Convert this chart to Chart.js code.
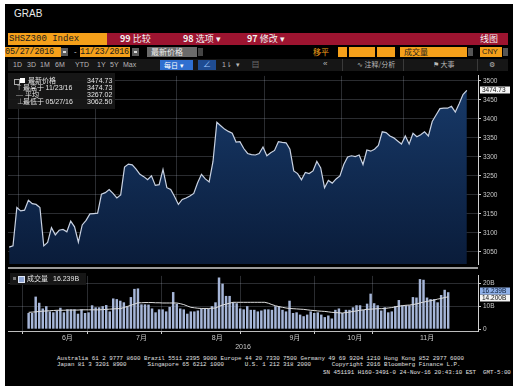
<!DOCTYPE html>
<html lang="zh">
<head>
<meta charset="utf-8">
<title>SHSZ300 Index</title>
<script src="https://cdn.jsdelivr.net/npm/chart.js@4.4.1/dist/chart.umd.min.js"></script>
<style>
  html, body { margin: 0; padding: 0; }
  body { width: 520px; height: 390px; background: #fff; position: relative; overflow: hidden;
         font-family: "Liberation Sans", "Noto Sans CJK SC", sans-serif; color: #ddd; }
  .abs  { position: absolute; white-space: pre; line-height: 1; }
  .org  { background: #f5a01a; color: #1c1c1c; }
  .mono { font-family: "Liberation Mono", "DejaVu Sans Mono", monospace; }
  .cjk  { font-family: "Noto Sans CJK SC", sans-serif; }
  .btn  { font-size: 7px; color: #b8b8b8; top: 61px; }
  .sep  { position: absolute; top: 59px; width: 1px; height: 12px; background: #3a3a3a; }
  .foot { font-family: "Liberation Mono", "DejaVu Sans Mono", monospace; font-size: 5.8px; color: #e0e0e0; }
  .lg   { font-size: 7px; color: #e4e4e4; }
  canvas { position: absolute; left: 0; }
</style>
</head>
<body>
<div class="abs" style="left:5px;top:4px;width:508px;height:382px;background:#000"></div>
<div class="abs" style="left:14px;top:9px;font-size:10px;color:#e8e8e8">GRAB</div>

<!-- row 1 -->
<div class="abs org mono" style="left:8px;top:33px;width:98px;height:12px;line-height:12px;font-size:9px;padding-left:1px">SHSZ300 Index</div>
<div class="abs" style="left:107px;top:33px;width:401px;height:12px;background:#9d1430"></div>
<div class="abs cjk" style="left:120px;top:33px;line-height:12px;font-size:9px;color:#f2f2f2"><b>99</b> 比较</div>
<div class="abs cjk" style="left:183px;top:33px;line-height:12px;font-size:9px;color:#f2f2f2"><b>98</b> 选项 ▾</div>
<div class="abs cjk" style="left:247px;top:33px;line-height:12px;font-size:9px;color:#f2f2f2"><b>97</b> 修改 ▾</div>
<div class="abs cjk" style="left:480px;top:33px;line-height:12px;font-size:9px;color:#f2f2f2">线图</div>

<!-- row 2 -->
<div class="abs org mono" style="left:5px;top:47px;width:56px;height:10px;line-height:10px;font-size:8.5px;letter-spacing:-0.2px">05/27/2016</div>
<div class="abs" style="left:61px;top:48px;width:7px;height:8px;background:#5c5c5c"></div>
<div class="abs" style="left:63px;top:51px;width:3px;height:2px;background:#ddd"></div>
<div class="abs" style="left:74px;top:47px;font-size:8px;line-height:10px;color:#ccc">-</div>
<div class="abs org mono" style="left:80px;top:47px;width:50px;height:10px;line-height:10px;font-size:8.5px;letter-spacing:-0.2px">11/23/2016</div>
<div class="abs" style="left:132px;top:48px;width:7px;height:8px;background:#5c5c5c"></div>
<div class="abs" style="left:134px;top:51px;width:3px;height:2px;background:#ddd"></div>
<div class="abs cjk" style="left:147px;top:47px;width:46px;height:10px;line-height:10px;font-size:8px;background:#6a6a6a;color:#eee;padding-left:4px">最新价格</div>
<div class="abs" style="left:198px;top:48px;width:5px;height:8px;background:#444"></div>
<div class="abs cjk" style="left:313px;top:47px;line-height:10px;font-size:8px;color:#f5a01a">移平</div>
<div class="abs org" style="left:338px;top:47px;width:9px;height:10px"></div>
<div class="abs org" style="left:349px;top:47px;width:26px;height:10px"></div>
<div class="abs org" style="left:377px;top:47px;width:18px;height:10px"></div>
<div class="abs org cjk" style="left:400px;top:47px;width:63px;height:10px;line-height:10px;font-size:8px;padding-left:4px">成交量</div>
<div class="abs" style="left:468px;top:48px;width:5px;height:8px;background:#555"></div>
<div class="abs org" style="left:480px;top:47px;width:20px;height:10px;line-height:10px;font-size:7.5px;padding-left:2px">CNY</div>
<div class="abs" style="left:503px;top:48px;width:5px;height:8px;background:#555"></div>

<!-- row 3 -->
<div class="abs" style="left:8px;top:59px;width:500px;height:12px;background:#161616"></div>
<div class="abs btn" style="left:13px">1D</div>
<div class="abs btn" style="left:27px">3D</div>
<div class="abs btn" style="left:40px">1M</div>
<div class="abs btn" style="left:55px">6M</div>
<div class="abs btn" style="left:75px">YTD</div>
<div class="abs btn" style="left:97px">1Y</div>
<div class="abs btn" style="left:110px">5Y</div>
<div class="abs btn" style="left:123px">Max</div>
<div class="abs cjk" style="left:160px;top:60px;width:29px;height:10px;line-height:10px;font-size:7px;background:#2f6fd0;color:#fff;padding-left:4px">每日 ▾</div>
<div class="abs" style="left:198px;top:60px;width:18px;height:10px;line-height:10px;font-size:8px;background:#1f4c92;color:#9cc4ff;text-align:center">∠</div>
<div class="abs btn" style="left:222px">1⇂  ▾</div>
<div class="abs btn" style="left:252px">▤</div>
<div class="sep" style="left:342px"></div>
<div class="sep" style="left:403px"></div>
<div class="sep" style="left:477px"></div>
<div class="abs btn" style="left:323px;font-size:8px;top:60px">«</div>
<div class="abs btn cjk" style="left:357px">∿ 注释/分析</div>
<div class="abs btn cjk" style="left:433px">⚑ 大事</div>
<div class="abs btn" style="left:489px">⚙</div>

<canvas id="price" width="520" height="200" style="top:70px"></canvas>
<canvas id="volume" width="520" height="85" style="top:270px"></canvas>

<!-- panel separator -->
<div class="abs" style="left:8px;top:267px;width:470px;height:2px;background:#9a9a9a"></div>

<!-- price legend -->
<div class="abs" style="left:8px;top:73px;width:107px;height:36px;background:rgba(24,24,24,0.92)"></div>
<div class="abs" style="left:14px;top:79px;width:4px;height:4px;border:1px solid #aaa"></div>
<div class="abs" style="left:20px;top:78px;width:5px;height:5px;background:#fff"></div>
<div class="abs lg cjk" style="left:28px;top:77px">最新价格</div>
<div class="abs lg" style="left:87px;top:77px">3474.73</div>
<div class="abs lg" style="left:17px;top:84px;color:#aaa">T</div>
<div class="abs lg cjk" style="left:23px;top:84px">最高于 <span style="font-family:'Liberation Sans'">11/23/16</span></div>
<div class="abs lg" style="left:87px;top:84px">3474.73</div>
<div class="abs lg" style="left:16px;top:91px;color:#aaa">—</div>
<div class="abs lg cjk" style="left:25px;top:91px">平均</div>
<div class="abs lg" style="left:87px;top:91px">3267.02</div>
<div class="abs lg" style="left:17px;top:98px;color:#aaa">⊥</div>
<div class="abs lg cjk" style="left:23px;top:98px">最低于 <span style="font-family:'Liberation Sans'">05/27/16</span></div>
<div class="abs lg" style="left:87px;top:98px">3062.50</div>

<!-- volume legend -->
<div class="abs" style="left:10px;top:273px;width:76px;height:12px;background:rgba(24,24,24,0.92)"></div>
<div class="abs" style="left:13px;top:277px;width:3px;height:3px;background:#777"></div>
<div class="abs" style="left:18px;top:276px;width:5px;height:5px;background:#8fa6d6;border:1px solid #dfe6f5"></div>
<div class="abs lg cjk" style="left:27px;top:275px">成交量</div>
<div class="abs lg" style="left:53px;top:275px">16.239B</div>

<!-- footer -->
<div class="abs foot" style="left:57px;top:356px">Australia 61 2 9777 8600 Brazil 5511 2395 9000 Europe 44 20 7330 7500 Germany 49 69 9204 1210 Hong Kong 852 2977 6000</div>
<div class="abs foot" style="left:57px;top:362px">Japan 81 3 3201 8900      Singapore 65 6212 1000      U.S. 1 212 318 2000      Copyright 2016 Bloomberg Finance L.P.</div>
<div class="abs foot" style="left:323px;top:370px">SN 451191 H160-3491-0 24-Nov-16 20:43:10 EST  GMT-5:00</div>

<script>
/* SHSZ300 daily close and turnover, 05/27/2016 – 11/23/2016 (one entry per trading day) */

const closes = [
  3062.50, 3066, 3167, 3158, 3160, 3186, 3177, 3175, 3167, 3066,
  3075, 3114, 3095, 3107, 3109, 3103, 3131, 3116, 3076, 3121,
  3133, 3150, 3151, 3152, 3202, 3206, 3214, 3204, 3192, 3200,
  3273, 3281, 3279, 3268, 3254, 3248, 3240, 3250, 3225, 3227,
  3267, 3219, 3214, 3196, 3175, 3188, 3192, 3197, 3204, 3232,
  3254, 3242, 3234, 3288, 3391, 3382, 3373, 3367, 3362, 3339,
  3340, 3322, 3309, 3306, 3305, 3309, 3326, 3303, 3311, 3317,
  3340, 3338, 3337, 3320, 3263, 3256, 3240, 3259, 3256, 3263,
  3288, 3271, 3219, 3238, 3231, 3242, 3250, 3280, 3300, 3303,
  3301, 3305, 3280, 3318, 3315, 3320, 3330, 3366, 3364, 3355,
  3350, 3342, 3334, 3355, 3334, 3362, 3353, 3358, 3366, 3355,
  3393, 3410, 3427, 3428, 3428, 3433, 3418, 3440, 3464, 3474.73,
];

// turnover, billions CNY
const volumes = [
  7.1, 7.1, 14.3, 11.6, 9.1, 10.1, 7.8, 7.4, 8.2, 9.4,
  7.4, 8.7, 8.7, 8.7, 6.8, 8.7, 7.1, 7.4, 10.5, 9.6,
  9.6, 10.1, 10.6, 7.8, 13.5, 13.2, 12.5, 11.8, 10.1, 14.1,
  17.7, 17.9, 10.9, 10.9, 10.8, 9.1, 7.4, 8.7, 8.7, 7.8,
  9.8, 16.3, 11.2, 9.1, 8.7, 6.8, 7.8, 7.8, 8.2, 9.1,
  9.1, 9.1, 10.1, 11.8, 22.7, 20.0, 14.6, 14.6, 11.8, 11.4,
  9.1, 8.7, 10.1, 8.5, 8.5, 7.8, 8.2, 8.7, 8.7, 8.5,
  10.1, 10.1, 8.5, 7.8, 12.5, 7.1, 7.4, 6.4, 5.7, 6.4,
  7.8, 7.1, 7.4, 6.4, 5.3, 6.0, 4.7, 8.5, 9.1, 7.1,
  8.5, 8.5, 9.6, 10.5, 10.5, 8.5, 11.2, 15.6, 11.4, 10.5,
  8.2, 9.6, 7.4, 7.8, 10.1, 12.8, 10.5, 10.5, 10.5, 14.1,
  13.9, 22.0, 21.7, 13.9, 13.2, 13.2, 11.8, 15.0, 17.3, 16.239,
];

// turnover moving average as drawn on the terminal
const volumeAvg = [
  7.4, 7.5, 7.6, 7.8, 7.9, 8.0, 8.1, 8.2, 8.3, 8.3,
  8.3, 8.4, 8.4, 8.4, 8.4, 8.5, 8.5, 8.5, 8.5, 8.5,
  8.5, 8.6, 8.7, 8.8, 8.9, 9.0, 9.0, 9.5, 10.0, 10.5,
  11.0, 11.6, 11.6, 11.7, 11.7, 11.7, 11.6, 11.6, 11.5, 11.5,
  11.5, 11.5, 11.5, 11.2, 10.8, 10.2, 9.6, 9.4, 9.2, 9.1,
  9.1, 9.1, 9.2, 9.3, 10.0, 10.6, 11.0, 11.4, 11.8, 11.8,
  11.8, 11.8, 11.8, 11.8, 11.8, 11.8, 11.8, 11.8, 11.4, 10.8,
  10.3, 9.9, 9.6, 9.3, 9.1, 9.0, 8.9, 8.8, 8.7, 8.5,
  8.3, 8.2, 8.0, 7.9, 7.8, 7.6, 7.4, 7.3, 7.2, 7.1,
  7.3, 7.5, 7.8, 8.0, 8.3, 8.5, 8.7, 8.8, 8.9, 9.0,
  9.0, 9.1, 9.3, 9.5, 9.8, 10.1, 10.3, 10.5, 10.6, 10.8,
  11.1, 11.5, 11.9, 12.2, 12.5, 12.8, 13.2, 13.5, 13.9, 14.2,
];

const monthLabels = ['6月', '7月', '8月', '9月', '10月', '11月'];
const monthStarts = [3, 23, 44, 67, 87, 103];          // first trading day of each month
const monthLabelAt = [11, 32, 53.5, 75.5, 92.5, 113];   // where the terminal prints each month name
const priceTicks  = [3050, 3100, 3150, 3200, 3250, 3300, 3350, 3400, 3450, 3500];
const volumeTicks = [0, 10, 20];

const COLORS = {
  line:     '#c9d2e2',
  fillTop:  '#183b6b',
  fillBot:  '#0a1c3a',
  grid:     'rgba(190,200,220,0.22)',
  axis:     '#c8c8c8',
  bar:      '#a6b6d8',
  avg:      '#dcdcdc',
  tagBlue:  '#8fb0e8',
};

const FONT = '"Liberation Sans", "Noto Sans CJK SC", sans-serif';
const X_MIN = -0.3, X_MAX = 121.9;
const CLEAR = 'rgba(0,0,0,0)';
const boundaries = monthStarts.map(s => s - 0.5);
const boundarySet = new Set(boundaries);

function points(arr) {
  return arr.map((v, i) => ({ x: i, y: v }));
}

function tickValue(c) {
  return c && c.tick ? c.tick.value : null;
}

// keep both panels' right axes the same width so the plot areas line up
function fixWidth(scale) { scale.width = 42; }

// price-style tag boxes drawn on the right axis
function tagPlugin(items) {
  return {
    id: 'tags',
    afterDraw(chart) {
      const { ctx } = chart;
      const y = chart.scales.y;
      ctx.save();
      ctx.font = '6.5px ' + FONT;
      ctx.textBaseline = 'middle';
      items.forEach(t => {
        const py = Math.round(y.getPixelForValue(t.value)) + (t.nudge || 0);
        ctx.fillStyle = t.bg;
        ctx.fillRect(480, py - 3.5, 30, 7);
        ctx.fillStyle = t.fg;
        ctx.fillText(t.text, 482, py + 0.5);
      });
      ctx.restore();
    },
  };
}

function renderPrice() {
  const ctx = document.getElementById('price').getContext('2d');
  const last = closes[closes.length - 1];

  new Chart(ctx, {
    type: 'line',
    data: {
      datasets: [{
        data: points(closes),
        borderColor: COLORS.line,
        borderWidth: 1.2,
        pointRadius: 0,
        tension: 0,
        fill: 'start',
        backgroundColor: c => {
          const area = c.chart.chartArea;
          if (!area) return COLORS.fillBot;
          const g = c.chart.ctx.createLinearGradient(0, area.top, 0, area.bottom);
          g.addColorStop(0, COLORS.fillTop);
          g.addColorStop(1, COLORS.fillBot);
          return g;
        },
      }],
    },
    options: {
      responsive: false,
      animation: false,
      devicePixelRatio: 1,
      layout: { padding: { left: 8, top: 1, right: 0, bottom: 3 } },
      plugins: { legend: { display: false }, tooltip: { enabled: false } },
      scales: {
        x: {
          type: 'linear', min: X_MIN, max: X_MAX, z: 1,
          afterBuildTicks: s => { s.ticks = boundaries.map(v => ({ value: v })); },
          afterFit: s => { s.height = 0; },
          ticks: { display: false },
          grid: { color: COLORS.grid, drawTicks: false },
          border: { display: false },
        },
        y: {
          position: 'right', min: 3018, max: 3513, z: 1,
          afterBuildTicks: s => { s.ticks = priceTicks.map(v => ({ value: v })); },
          afterFit: fixWidth,
          ticks: { color: COLORS.axis, padding: 2, font: { size: 6.5, family: FONT }, callback: v => String(v) },
          grid: { color: COLORS.grid, tickLength: 3, tickColor: '#d0d0d0' },
          border: { color: '#d0d0d0' },
        },
      },
    },
    plugins: [tagPlugin([{ value: last, text: last.toFixed(2), bg: '#f4f4f4', fg: '#111' }])],
  });
}

function renderVolume() {
  const ctx = document.getElementById('volume').getContext('2d');
  const lastVol = volumes[volumes.length - 1];
  const lastAvg = volumeAvg[volumeAvg.length - 1];
  const labelAt = new Map(monthLabelAt.map((v, i) => [v, monthLabels[i]]));

  new Chart(ctx, {
    type: 'bar',
    data: {
      datasets: [
        {
          type: 'line',
          data: points(volumeAvg),
          borderColor: COLORS.avg,
          borderWidth: 1,
          pointRadius: 0,
          order: 0,
        },
        {
          data: points(volumes),
          backgroundColor: COLORS.bar,
          barPercentage: 0.7,
          categoryPercentage: 1,
          order: 1,
        },
      ],
    },
    options: {
      responsive: false,
      animation: false,
      devicePixelRatio: 1,
      layout: { padding: { left: 8, top: 1, right: 0, bottom: 0 } },
      plugins: { legend: { display: false }, tooltip: { enabled: false } },
      scales: {
        x: {
          type: 'linear', min: X_MIN, max: X_MAX,
          afterBuildTicks: s => {
            s.ticks = boundaries.concat(monthLabelAt).sort((a, b) => a - b).map(v => ({ value: v }));
          },
          afterFit: s => { s.height = 24; },
          ticks: {
            autoSkip: false, maxRotation: 0, padding: 0,
            color: COLORS.axis, font: { size: 7, family: FONT },
            callback: v => labelAt.get(v) || '',
          },
          grid: {
            tickLength: 3,
            color: c => boundarySet.has(tickValue(c)) ? COLORS.grid : CLEAR,
            tickColor: c => boundarySet.has(tickValue(c)) ? '#cfcfcf' : CLEAR,
          },
          border: { color: '#bdbdbd' },
          title: {
            display: true, text: '2016', color: COLORS.axis,
            font: { size: 7, family: FONT }, padding: { top: 0, bottom: 4 },
          },
        },
        y: {
          position: 'right', min: -0.8, max: 23.4,
          afterBuildTicks: s => { s.ticks = volumeTicks.map(v => ({ value: v })); },
          afterFit: fixWidth,
          ticks: {
            color: COLORS.axis, padding: 2, font: { size: 6.5, family: FONT },
            callback: v => v === 0 ? '0' : v + 'B',
          },
          grid: {
            tickLength: 3, tickColor: '#d0d0d0',
            color: c => tickValue(c) === 0 ? CLEAR : COLORS.grid,
          },
          border: { color: '#d0d0d0' },
        },
      },
    },
    plugins: [tagPlugin([
      { value: lastAvg, text: lastAvg.toFixed(3) + 'B', bg: '#f4f4f4', fg: '#111', nudge: 1 },
      { value: lastVol, text: lastVol.toFixed(3) + 'B', bg: COLORS.tagBlue, fg: '#0a1a33', nudge: -1 },
    ])],
  });
}

function init() {
  renderPrice();
  renderVolume();
}

document.addEventListener('DOMContentLoaded', init);
</script>
</body>
</html>
